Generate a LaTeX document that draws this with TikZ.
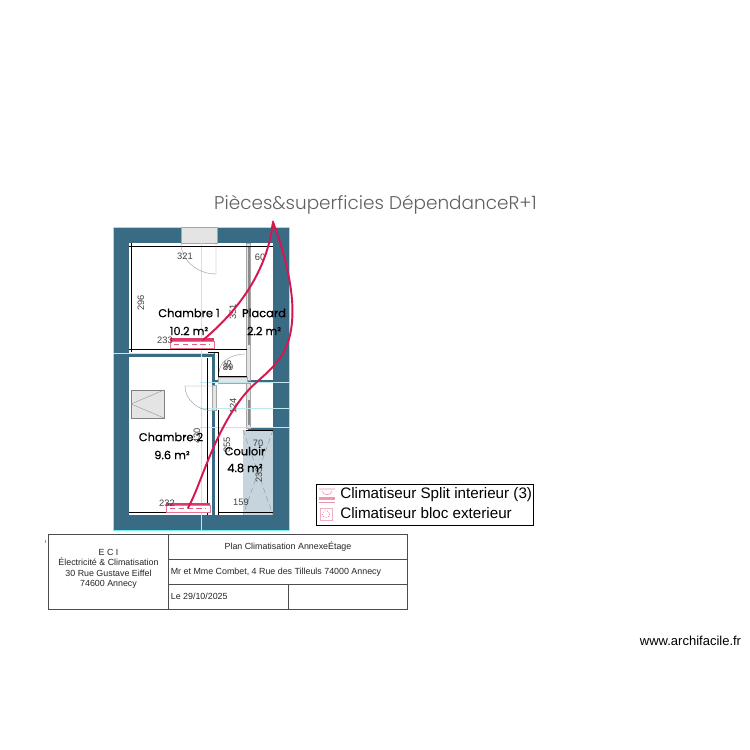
\documentclass[tikz,border=0pt]{standalone}
\usepackage{fontspec}
\setmainfont{Liberation Sans}
\newfontfamily\titlefont{Poppins Light}
\newfontfamily\roomfont[FakeBold=0.6]{Poppins}
\definecolor{wallcol}{HTML}{3A6B85}
\definecolor{clim}{HTML}{D6174F}
\definecolor{guide}{HTML}{BDE9EE}
\definecolor{leaf}{HTML}{E4E4E4}
\definecolor{shower}{HTML}{C6D4DD}
\tikzstyle{wall}=[fill=wallcol,draw=guide!60!cyan,line width=0.3pt]
\tikzstyle{guideline}=[draw=guide,line width=0.3pt]
\tikzstyle{trait}=[draw=black,line width=0.55pt]
\tikzstyle{door}=[draw=black!45,line width=0.2pt]
\tikzstyle{joinery}=[fill=leaf,draw=black!35,line width=0.3pt]
\tikzstyle{link}=[draw=clim,line width=1.1pt,line cap=round]
\tikzstyle{unit}=[draw=clim!60,line width=0.3pt,fill=white]
\tikzstyle{room}=[font=\roomfont\fontsize{6.5}{7}\selectfont]
\tikzstyle{dim}=[font=\fontsize{5.3}{6}\selectfont,text=black!75,inner sep=0pt]
\tikzstyle{cell}=[font=\fontsize{5.05}{6}\selectfont,text=black!85,inner sep=0pt,align=center]
\tikzstyle{legendtxt}=[font=\fontsize{8.65}{9}\selectfont,inner sep=0pt,anchor=west]
\tikzstyle{block}=[draw=black!70,line width=0.55pt]
\begin{document}
\begin{tikzpicture}[x=0.02cm,y=-0.02cm]
    \useasboundingbox (0,0) rectangle (750,750);
    \fill[white] (0,0) rectangle (750,750);
    % First we draw the walls
    \path[wall] (113,227) rectangle (289,530);
    \fill[white] (129,243) rectangle (273,353);
    \fill[white] (129,357) rectangle (212,515);
    \fill[white] (215,353) rectangle (273,380);
    \fill[white] (215,383) rectangle (273,515);
    \fill[white] (207,357) rectangle (212,385);
    \fill[wallcol] (248,427) rectangle (273,430);
    \path[joinery] (181,227) rectangle (217,243);
    % Shower and joinery
    \fill[shower] (243,430) rectangle (273,515);
    \draw[door,densely dashed] (243,430) -- (273,515) (273,430) -- (243,515);
    \foreach \xa/\ya/\xb/\yb in {246/243/250/380, 246/383/250/428, 212/385/216/410, 218/377/247/383}
        \path[joinery] (\xa,\ya) rectangle (\xb,\yb);
    \fill[black!45] (248,246) rectangle (250,345);
    \fill[black!45] (248,400) rectangle (250,425);
    % Window of the second room
    \path[joinery,draw=black!50] (131,390) rectangle (164,418);
    \draw[door] (131,404) -- (164,390) (131,404) -- (164,418);
    % Construction lines
    \foreach \ya in {382,408,427}
        \path[guideline] (200,\ya) -- (289,\ya);
    \path[guideline] (113,353) -- (214,353);
    \path[guideline] (201,243) -- (201,530);
    % Then the traits of the rooms
    \foreach \xa/\ya/\xb/\yb in {129/246/273/246, 131/243/131/352, 129/349/247/349, 129/512/208/512,
        218/512/273/512, 207/358/207/515, 218/352/218/376, 218/410/218/515, 218/376/247/376, 208/352/218/352, 246/430/273/430}
        \path[trait] (\xa,\ya) -- (\xb,\yb);
    % Doors
    \draw[door] (216,243) -- (216,274) .. controls (197,274) and (181,260) .. (181,243);
    \draw[door] (214,386) -- (185,386) .. controls (185,400) and (198,411) .. (214,411);
    \draw[door] (245,354) .. controls (231,354) and (219,362) .. (219,373);
    % Indoor units
    \foreach \xa/\ya/\yb/\yc in {170/338/341/348, 166/503/505/512}{
        \fill[clim!85] (\xa,\ya) rectangle ++(44,\yb-\ya);
        \path[unit] (\xa,\yb) rectangle ++(44,\yc-\yb);
        \draw[clim!70,densely dashed,line width=0.25pt] (\xa+4,\yb+3.5) -- ++(36,0);
    }
    % Dimensions
    \foreach \pos/\name/\txt/\rot in {{(185,256)/dima/321/0}, {(260,257)/dimb/60/0}, {(141,303)/dimc/296/90},
        {(233,312)/dimd/351/90}, {(165,340)/dime/233/0}, {(228,367)/dimf/89/0}, {(228,365)/dimg/35/90},
        {(233,406)/dimh/124/90}, {(197,436)/dimi/430/90}, {(227,445)/dimj/355/90}, {(258,443)/dimk/70/0},
        {(259,475)/diml/233/90}, {(241,502)/dimm/159/0}, {(167,503)/dimn/232/0}}
        \node[dim,rotate=\rot] (\name) at \pos {\txt};
    % Room labels
    \foreach \pos/\name/\txt in {{(189,313)/chambrea/Chambre 1}, {(189,331)/surfa/10.2 m²}, {(264,313)/placard/Placard},
        {(264,331)/surfb/2.2 m²}, {(171,437)/chambreb/Chambre 2}, {(172,455)/surfc/9.6 m²},
        {(245,451)/couloir/Couloir}, {(245,468)/surfd/4.8 m²}}
        \node[room,inner sep=0pt] (\name) at \pos {\txt};
    % Links of the outdoor unit
    \path[link] (273,222) .. controls (268,265) and (245,305) .. (203,340);
    \path[link] (273,222) .. controls (285,255) and (298,300) .. (290,335) .. controls (285,358) and (270,370) .. (258,381)
        .. controls (235,400) and (218,435) .. (207,463) .. controls (200,480) and (195,495) .. (188,508);
    \fill[clim] (273,220) -- (275.5,228) -- (271,228) -- cycle;
    % Title
    \node[font=\titlefont\fontsize{10.5}{13}\selectfont,text=black!62,inner sep=0pt] (titre) at (375.5,205) {Pièces\&superficies DépendanceR+1};
    % Legend
    \node[draw=black,line width=1pt,minimum width=217*0.02cm,minimum height=41*0.02cm,inner sep=0pt] (legende) at (425,505) {};
    \node[legendtxt] (splittxt) at (340,494.5) {Climatiseur Split interieur (3)};
    \node[legendtxt] (bloctxt) at (340,513) {Climatiseur bloc exterieur};
    \draw[clim!50,line width=0.3pt] (319,489) -- (335,489) (322,491) .. controls (323,496) and (331,496) .. (332,491);
    \fill[clim!45] (319,498) rectangle (335,500);
    \draw[clim!45,line width=0.3pt] (319,497) -- (335,497) (319,502) -- (335,502);
    \path[draw=clim!35,line width=0.3pt] (320,508) rectangle (332,520);
    \draw[clim!70,densely dotted,line width=0.4pt] (326,514) circle[radius=3.5];
    % Title block
    \path[block] (48,534) rectangle (407,609);
    \path[block] (168,534) -- (168,609);
    \path[block] (168,559) -- (407,559);
    \path[block] (168,584) -- (407,584);
    \path[block] (288,584) -- (288,609);
    \draw[black!40,line width=0.3pt] (45,540) -- (45,543);
    \node[cell] (societe) at (108.5,569) {E C I\\Électricité \& Climatisation\\30 Rue Gustave Eiffel\\74600 Annecy};
    \node[cell] (plan) at (288,547) {Plan Climatisation AnnexeÉtage};
    \node[cell,anchor=west] (client) at (170.5,572) {Mr et Mme Combet, 4 Rue des Tilleuls 74000 Annecy};
    \node[cell,anchor=west] (datebloc) at (170.5,596) {Le 29/10/2025};
    \node[font=\fontsize{7.4}{8}\selectfont,inner sep=0pt] (site) at (690.5,641) {www.archifacile.fr};
\end{tikzpicture}
\end{document}
